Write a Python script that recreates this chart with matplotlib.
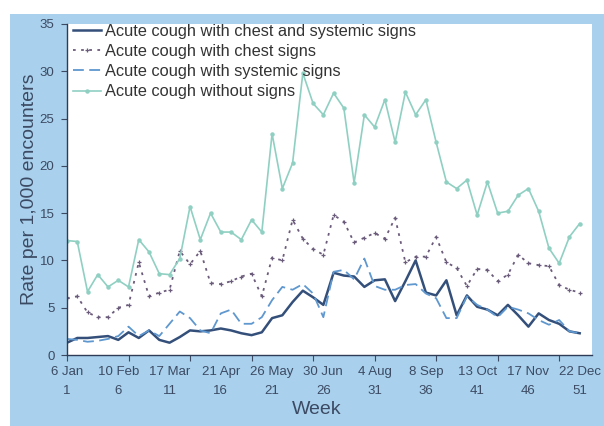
import matplotlib.pyplot as plt
from matplotlib.patches import Rectangle

weeks = list(range(1, 52))

chest_systemic = [1.3, 1.8, 1.8, 1.9, 2.0, 1.6, 2.4, 1.8, 2.6, 1.6,
                  1.3, 1.9, 2.6, 2.5, 2.6, 2.8, 2.6, 2.3, 2.1, 2.4,
                  3.9, 4.2, 5.6, 6.8, 6.1, 5.3, 8.7, 8.4, 8.3, 7.2,
                  7.9, 8.0, 5.7, 7.8, 10.0, 6.6, 6.3, 7.9, 4.2, 6.3,
                  5.1, 4.8, 4.2, 5.3, 4.2, 3.0, 4.4, 3.7, 3.3, 2.5, 2.3]

chest = [6.0, 6.2, 4.5, 4.0, 4.0, 5.0, 5.3, 9.8, 6.2, 6.6,
         6.9, 11.0, 9.6, 11.0, 7.6, 7.5, 7.8, 8.3, 8.6, 6.2,
         10.3, 10.0, 14.3, 12.3, 11.2, 10.6, 14.8, 14.1, 11.9, 12.4,
         12.9, 12.3, 14.5, 9.8, 10.4, 10.4, 12.5, 9.8, 9.2, 7.3,
         9.1, 9.0, 7.8, 8.5, 10.6, 9.7, 9.5, 9.4, 7.4, 6.9, 6.6]

systemic = [1.7, 1.6, 1.4, 1.5, 1.7, 2.0, 3.0, 2.0, 2.6, 2.0,
            3.3, 4.6, 3.9, 2.6, 2.3, 4.4, 4.8, 3.3, 3.3, 4.0,
            5.8, 7.2, 6.9, 7.5, 6.5, 4.0, 8.8, 9.0, 8.0, 10.2,
            7.3, 6.9, 6.9, 7.4, 7.5, 6.5, 6.0, 3.9, 3.9, 6.2,
            5.3, 4.8, 4.0, 5.1, 4.8, 4.4, 3.7, 3.2, 3.7, 2.5, 2.3]

no_signs = [12.1, 12.0, 6.7, 8.5, 7.2, 7.9, 7.2, 12.2, 10.9, 8.6,
            8.5, 10.2, 15.7, 12.2, 15.0, 13.0, 13.0, 12.2, 14.3, 13.0,
            23.4, 17.6, 20.3, 29.8, 26.6, 25.4, 27.7, 26.1, 18.2, 25.4,
            24.1, 27.0, 22.5, 27.8, 25.4, 27.0, 22.5, 18.3, 17.6, 18.5,
            14.8, 18.3, 15.0, 15.2, 16.9, 17.6, 15.2, 11.3, 9.7, 12.5, 13.9]

label_weeks = [1, 6, 11, 16, 21, 26, 31, 36, 41, 46, 51]
label_dates = ['6 Jan', '10 Feb', '17 Mar', '21 Apr', '26 May', '30 Jun',
               '4 Aug', '8 Sep', '13 Oct', '17 Nov', '22 Dec']

plt.rcParams['font.family'] = ['Liberation Sans', 'DejaVu Sans']

txt = '#3c4a63'
fig = plt.figure(figsize=(6.04, 4.26), dpi=100)
fig.add_artist(Rectangle((10 / 604, 0), 1, (426 - 14) / 426, transform=fig.transFigure,
                         facecolor='#a9d0ec', edgecolor='none', zorder=-10))
ax = fig.add_axes([67 / 604, 71 / 426, 525 / 604, 331 / 426])
ax.set_facecolor('white')

ax.plot(weeks, chest_systemic, color='#34507a', lw=1.8,
        label='Acute cough with chest and systemic signs')
ax.plot(weeks, chest, color='#6b5b7b', lw=1.3, ls=(0, (1.5, 3)), marker='+', ms=3.5, mew=0.9,
        label='Acute cough with chest signs')
ax.plot(weeks, systemic, color='#5f97cf', lw=1.3, ls=(0, (6, 3)),
        label='Acute cough with systemic signs')
ax.plot(weeks, no_signs, color='#8fd0c2', lw=1.2, marker='o', ms=2.2,
        label='Acute cough without signs')

ax.set_xlim(1, 52.2)
ax.set_ylim(0, 35)
ax.set_yticks(range(0, 36, 5))
ax.tick_params(axis='y', colors=txt, labelsize=9.5, length=4, width=0.8, pad=5)

# tick marks (every 6 weeks) and labels (every 5 weeks) are spaced differently in the original
ax.xaxis.remove_overlapping_locs = False
ax.set_xticks(range(1, 50, 6))
ax.set_xticklabels([])
ax.tick_params(axis='x', which='major', length=4, width=0.8, color=txt)
ax.set_xticks(label_weeks, minor=True)
ax.set_xticklabels([f'{d}\n{w}' for d, w in zip(label_dates, label_weeks)], minor=True,
                   linespacing=1.75)
ax.tick_params(axis='x', which='minor', length=0, labelsize=9.5, colors=txt, pad=8)

for s in ['top', 'right']:
    ax.spines[s].set_visible(False)
for s in ['left', 'bottom']:
    ax.spines[s].set_color('#2e3c58')
    ax.spines[s].set_linewidth(1.0)

ax.set_ylabel('Rate per 1,000 encounters', fontsize=14, color=txt)
ax.yaxis.set_label_coords(-0.055, 0.5)
ax.set_xlabel('Week', fontsize=14, color=txt)
ax.xaxis.set_label_coords(0.476, -0.14)

ax.legend(loc='upper left', bbox_to_anchor=(0.009, 1.006), frameon=False, fontsize=11.8,
          handlelength=1.7, handletextpad=0.25, labelspacing=0.32, borderaxespad=0.0,
          borderpad=0.1, labelcolor='#333333')

fig.savefig('out.png', dpi=100)
